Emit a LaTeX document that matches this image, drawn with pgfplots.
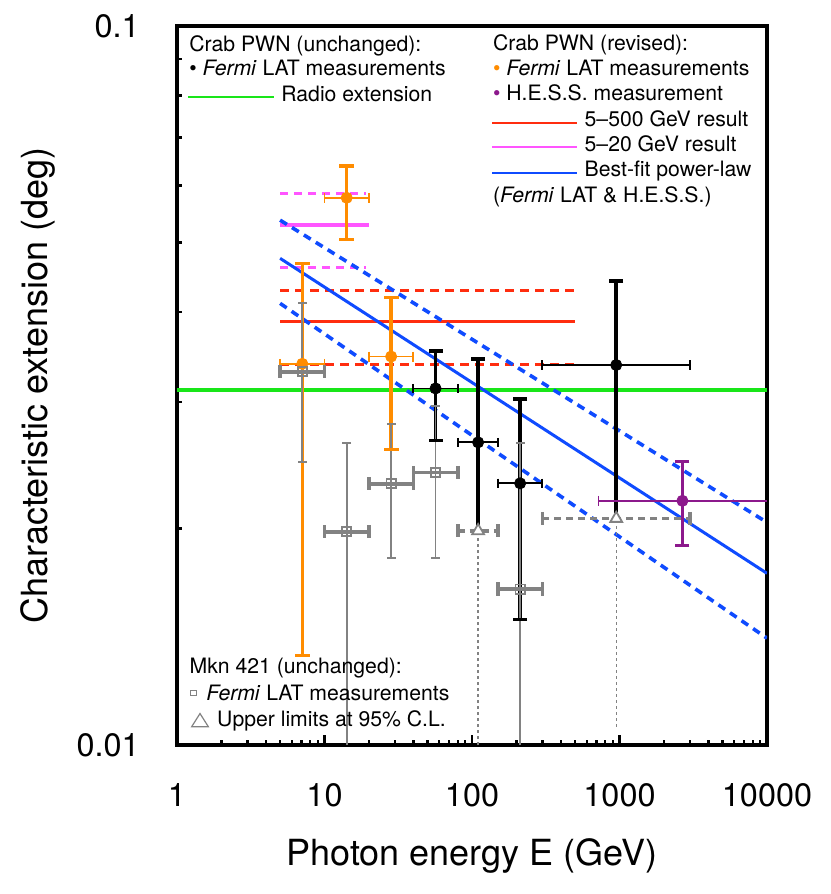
\documentclass[border=0pt]{standalone}
\usepackage{pgfplots}
\pgfplotsset{compat=1.18}
\usepackage{fontspec}
\setmainfont{TeX Gyre Heros}
\definecolor{orgc}{RGB}{255,140,0}
\definecolor{purp}{RGB}{140,25,140}
\definecolor{grn}{RGB}{25,230,25}
\definecolor{redc}{RGB}{255,45,15}
\definecolor{magc}{RGB}{255,85,255}
\definecolor{bluc}{RGB}{15,75,255}
\definecolor{gryc}{RGB}{130,130,130}
\tikzset{legtext/.style={anchor=base west, inner sep=0pt, font=\fontsize{10.6}{12}\selectfont}}
\begin{document}
\begin{tikzpicture}
\useasboundingbox (-88.5pt,-74.5pt) rectangle (326.5pt,372.5pt);
\begin{axis}[
 xmode=log, ymode=log,
 scale only axis, width=295pt, height=359.5pt,
 xmin=1, xmax=10000, ymin=0.01, ymax=0.1,
 axis line style={line width=2pt},
 tick align=inside, xtick pos=bottom, ytick pos=left,
 major tick length=5pt, minor tick length=2.5pt,
 tick style={black, line width=1.2pt},
 xtick={1,10,100,1000,10000}, xticklabels={1,10,100,1000,10000},
 minor xtick={2,3,4,5,6,7,8,9,20,30,40,50,60,70,80,90,200,300,400,500,600,700,800,900,2000,3000,4000,5000,6000,7000,8000,9000},
 ytick={0.01,0.1}, yticklabels={0.01,0.1},
 minor ytick={0.02,0.03,0.04,0.05,0.06,0.07,0.08,0.09},
 xticklabel style={font=\fontsize{16.2}{16}\selectfont, anchor=center, inner sep=0pt, yshift=-25pt},
 yticklabel style={font=\fontsize{16.2}{16}\selectfont, anchor=east, inner sep=0pt, xshift=-18.5pt},
 xlabel={Photon energy E (GeV)}, ylabel={Characteristic extension (deg)},
 label style={font=\fontsize{18}{18}\selectfont},
 xlabel style={at={(rel axis cs:0.5,-0.1545)}, anchor=center},
 ylabel style={at={(rel axis cs:-0.2356,0.5)}, anchor=center},
]
% ---- reference lines
\addplot[grn, line width=1.8pt] coordinates {(1,0.0312) (10000,0.0312)};
\addplot[redc, line width=1.5pt] coordinates {(5,0.0388) (500,0.0388)};
\addplot[redc, line width=1.6pt, dash pattern=on 4.5pt off 3pt] coordinates {(5,0.0429) (500,0.0429)};
\addplot[redc, line width=1.6pt, dash pattern=on 4.5pt off 3pt] coordinates {(5,0.03384) (500,0.03384)};
\addplot[magc, line width=1.8pt] coordinates {(5,0.05286) (20,0.05286)};
\addplot[magc, line width=1.6pt, dash pattern=on 4pt off 3pt] coordinates {(5,0.05853) (19,0.05853)};
\addplot[magc, line width=1.6pt, dash pattern=on 4pt off 3pt] coordinates {(5,0.04618) (19,0.04618)};
\addplot[bluc, line width=1.5pt] coordinates {(5,0.04752) (10000,0.01733)};
\addplot[bluc, line width=1.8pt, dash pattern=on 4pt off 3pt] coordinates {(5,0.0537) (10000,0.0204)};
\addplot[bluc, line width=1.8pt, dash pattern=on 4pt off 3pt] coordinates {(5,0.04114) (10000,0.01408)};
% ---- Crab revised Fermi LAT (orange)
\addplot[orgc, line width=1.7pt, mark=-, mark size=3.7pt, unbounded coords=jump] coordinates {
 (7.07,0.01331) (7.07,0.04677) (7.07,nan)
 (14.14,0.0505) (14.14,0.0639) (14.14,nan)
 (28.3,0.02578) (28.3,0.04188)};
\addplot[orgc, line width=0.9pt, mark=|, mark size=2.5pt, unbounded coords=jump] coordinates {
 (5,0.0339) (10,0.0339) (nan,0.0339)
 (10,0.0577) (20,0.0577) (nan,0.0577)
 (20,0.0347) (40,0.0347)};
\addplot[orgc, only marks, mark=*, mark size=2.8pt] coordinates {(7.07,0.0339) (14.14,0.0577) (28.3,0.0347)};
% ---- Crab unchanged Fermi LAT (black)
\addplot[black, line width=1.75pt, mark=-, mark size=3.5pt, unbounded coords=jump] coordinates {
 (56.6,0.02653) (56.6,0.03532) (56.6,nan)
 (212,0.01496) (212,0.03029)};
\addplot[black, line width=1.75pt, unbounded coords=jump] coordinates {
 (110,0.0200) (110,0.03442) (110,nan)
 (950,0.02102) (950,0.04417)};
\addplot[black, only marks, mark=-, mark size=3.5pt, mark options={line width=1.75pt}] coordinates {(110,0.03442) (950,0.04417)};
\addplot[black, line width=0.9pt, mark=|, mark size=2.3pt, unbounded coords=jump] coordinates {
 (40,0.03133) (80,0.03133) (nan,0.03133)
 (80,0.02636) (150,0.02636) (nan,0.02636)
 (150,0.02312) (300,0.02312) (nan,0.02312)
 (300,0.03377) (3000,0.03377)};
\addplot[black, only marks, mark=*, mark size=2.8pt] coordinates {(56.6,0.03133) (110,0.02636) (212,0.02312) (950,0.03377)};
% ---- H.E.S.S. (purple)
\addplot[purp, line width=1.6pt, mark=-, mark size=3.5pt] coordinates {(2670,0.01893) (2670,0.02477)};
\addplot[purp, line width=0.9pt] coordinates {(720,0.02186) (10000,0.02186)};
\addplot[purp, only marks, mark=|, mark size=2.5pt, mark options={line width=0.9pt}] coordinates {(720,0.02186)};
\addplot[purp, only marks, mark=*, mark size=2.8pt] coordinates {(2670,0.02186)};
% ---- Mkn 421 (gray)
\addplot[gryc, line width=0.9pt, mark=-, mark size=2.2pt, unbounded coords=jump] coordinates {
 (7.07,0.02474) (7.07,0.04114) (7.07,nan)
 (28.3,0.01822) (28.3,0.02798) (28.3,nan)
 (56.6,0.01822) (56.6,0.0296)};
\addplot[gryc, line width=0.9pt, unbounded coords=jump] coordinates {
 (14.14,0.01) (14.14,0.0263) (14.14,nan)
 (212,0.01) (212,0.0263)};
\addplot[gryc, only marks, mark=-, mark size=2.2pt, mark options={line width=0.9pt}] coordinates {(14.14,0.0263) (212,0.0263)};
\addplot[gryc, line width=1.8pt, mark=|, mark size=3.3pt, unbounded coords=jump] coordinates {
 (5,0.03305) (10,0.03305) (nan,0.03305)
 (10,0.0198) (20,0.0198) (nan,0.0198)
 (20,0.02309) (40,0.02309) (nan,0.02309)
 (40,0.02394) (80,0.02394) (nan,0.02394)
 (150,0.01648) (300,0.01648)};
\addplot[gryc, only marks, mark=square, mark size=2.3pt, mark options={line width=0.9pt}] coordinates {
 (7.07,0.03305) (14.14,0.0198) (28.3,0.02309) (56.6,0.02394) (212,0.01648)};
% upper limits
\addplot[gryc, line width=1.8pt, dash pattern=on 3.5pt off 2.5pt, unbounded coords=jump] coordinates {
 (80,0.01986) (150,0.01986) (nan,0.01986)
 (300,0.02066) (3000,0.02066)};
\addplot[gryc, only marks, mark=|, mark size=3.3pt, mark options={line width=1.8pt}] coordinates {
 (80,0.01986) (150,0.01986) (300,0.02066) (3000,0.02066)};
\addplot[gryc, line width=0.7pt, dash pattern=on 1.5pt off 1.5pt] coordinates {(110,0.01) (110,0.01986)};
\addplot[gryc, line width=0.7pt, dash pattern=on 1.5pt off 1.5pt] coordinates {(950,0.0106) (950,0.02066)};
\addplot[gryc, only marks, mark=triangle*, mark size=3.4pt, mark options={fill=white, draw=gryc, line width=0.9pt}] coordinates {(110,0.01986) (950,0.02066)};
% ---- legends
\node[legtext] at (rel axis cs:0.0203,0.9652) {Crab PWN (unchanged):};
\node[legtext] at (rel axis cs:0.0203,0.9305) {\textbullet\ \textit{Fermi} LAT measurements};
\draw[draw=grn, line width=0.9pt] (rel axis cs:0.0186,0.9017) -- (rel axis cs:0.1644,0.9017);
\node[legtext] at (rel axis cs:0.1763,0.8947) {Radio extension};
\node[legtext] at (rel axis cs:0.5351,0.9657) {Crab PWN (revised):};
\node[legtext] at (rel axis cs:0.5351,0.9312) {{\color{orgc}\textbullet}\ \textit{Fermi} LAT measurements};
\node[legtext] at (rel axis cs:0.5351,0.8961) {{\color{purp}\textbullet}\ H.E.S.S. measurement};
\draw[draw=redc, line width=0.9pt] (rel axis cs:0.5339,0.8655) -- (rel axis cs:0.6780,0.8655);
\node[legtext] at (rel axis cs:0.6903,0.8600) {5–500 GeV result};
\draw[draw=magc, line width=0.9pt] (rel axis cs:0.5339,0.8313) -- (rel axis cs:0.6780,0.8313);
\node[legtext] at (rel axis cs:0.6903,0.8252) {5–20 GeV result};
\draw[draw=bluc, line width=0.9pt] (rel axis cs:0.5339,0.7951) -- (rel axis cs:0.6780,0.7951);
\node[legtext] at (rel axis cs:0.6903,0.7904) {Best-fit power-law};
\node[legtext] at (rel axis cs:0.5351,0.7542) {(\textit{Fermi} LAT \& H.E.S.S.)};
\node[legtext] at (rel axis cs:0.0208,0.0997) {Mkn 421 (unchanged):};
\draw[draw=gryc, line width=0.5pt] (rel axis cs:0.0232,0.0682) rectangle (rel axis cs:0.0334,0.0765);
\node[legtext] at (rel axis cs:0.0492,0.0626) {\textit{Fermi} LAT measurements};
\draw[draw=gryc, line width=0.6pt] (rel axis cs:0.0249,0.0255) -- (rel axis cs:0.0531,0.0255) -- (rel axis cs:0.0390,0.0438) -- cycle;
\node[legtext] at (rel axis cs:0.0673,0.0255) {Upper limits at 95\% C.L.};
\end{axis}
\end{tikzpicture}
\end{document}
